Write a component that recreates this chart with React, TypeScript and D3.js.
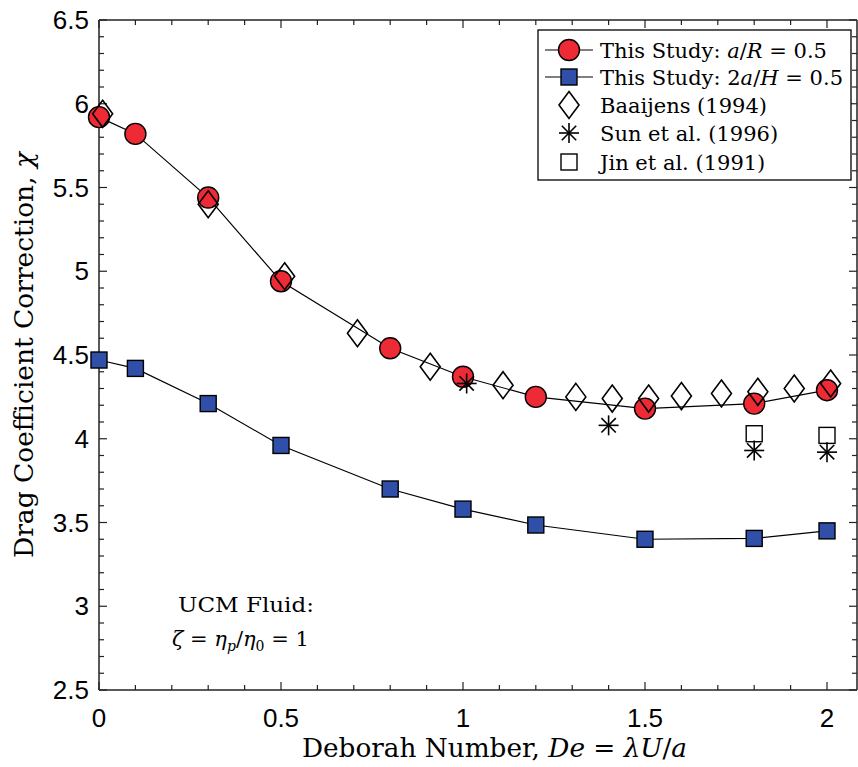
import React from "react";
import * as d3 from "d3";

const deStudy = [0, 0.1, 0.3, 0.5, 0.8, 1.0, 1.2, 1.5, 1.8, 2.0];
const chiCylinder = [5.92, 5.82, 5.44, 4.94, 4.54, 4.37, 4.25, 4.18, 4.21, 4.29];
const chiSphereChannel = [4.47, 4.42, 4.21, 3.96, 3.70, 3.58, 3.485, 3.40, 3.405, 3.45];

const deBaaijens = [0.01, 0.3, 0.51, 0.71, 0.91, 1.11, 1.31, 1.41, 1.51, 1.6, 1.71, 1.81, 1.91, 2.01];
const chiBaaijens = [5.94, 5.40, 4.97, 4.63, 4.43, 4.32, 4.25, 4.24, 4.24, 4.255, 4.27, 4.28, 4.30, 4.33];

const deSun = [1.01, 1.4, 1.8, 2.0];
const chiSun = [4.33, 4.08, 3.93, 3.92];

const deJin = [1.8, 2.0];
const chiJin = [4.03, 4.02];

const xTicks = [0, 0.5, 1, 1.5, 2];
const xTickLabels = ["0", "0.5", "1", "1.5", "2"];
const yTicks = [2.5, 3, 3.5, 4, 4.5, 5, 5.5, 6, 6.5];
const yTickLabels = ["2.5", "3", "3.5", "4", "4.5", "5", "5.5", "6", "6.5"];

const legendLabels = ["This Study: ", "This Study: ", "Baaijens (1994)", "Sun et al. (1996)", "Jin et al. (1991)"];

const W = 858, H = 767;
const L = 99, T = 20, B = 690, R = 857;

const x = d3.scaleLinear().domain([0, 2]).range([L, 827]);
const y = d3.scaleLinear().domain([2.5, 6.5]).range([B, T]);
const xMax = x.invert(R);

const RED = "#ee2a35";
const BLUE = "#2f4fa8";
const SERIF = "'DejaVu Serif', 'Liberation Serif', serif";
const SANS = "'Liberation Sans', Arial, sans-serif";

function Circle({ cx, cy }: { cx: number; cy: number }) {
  return <circle cx={cx} cy={cy} r={10.5} fill={RED} stroke="#000" strokeWidth={1.4} />;
}
function Square({ cx, cy, fill }: { cx: number; cy: number; fill: string }) {
  return <rect x={cx - 8} y={cy - 8} width={16} height={16} fill={fill} stroke="#000" strokeWidth={1.4} />;
}
function Diamond({ cx, cy }: { cx: number; cy: number }) {
  const p = `M${cx},${cy - 13.5}L${cx + 10},${cy}L${cx},${cy + 13.5}L${cx - 10},${cy}Z`;
  return <path d={p} fill="none" stroke="#000" strokeWidth={1.6} />;
}
function Star({ cx, cy }: { cx: number; cy: number }) {
  const r = 10, d = 7.2;
  return (
    <g stroke="#000" strokeWidth={1.6}>
      <line x1={cx - r} y1={cy} x2={cx + r} y2={cy} />
      <line x1={cx} y1={cy - r} x2={cx} y2={cy + r} />
      <line x1={cx - d} y1={cy - d} x2={cx + d} y2={cy + d} />
      <line x1={cx - d} y1={cy + d} x2={cx + d} y2={cy - d} />
    </g>
  );
}

export default function App() {
  const line = d3.line<[number, number]>().x(d => x(d[0])).y(d => y(d[1]));
  const cylPts: [number, number][] = deStudy.map((d, i) => [d, chiCylinder[i]]);
  const chanPts: [number, number][] = deStudy.map((d, i) => [d, chiSphereChannel[i]]);

  const xMinor = d3.range(0, xMax, 0.1).map(v => Math.round(v * 10) / 10);
  const yMinor = d3.range(2.5, 6.5001, 0.1).map(v => Math.round(v * 10) / 10);
  const isMajor = (v: number) => Math.abs(v * 2 - Math.round(v * 2)) < 1e-6;

  const lgX = 569, lgY = [50, 77, 105, 133, 162];

  return (
    <svg width={W} height={H} style={{ position: "absolute", left: 0, top: 0, background: "#fff" }}>
      <g stroke="#222" strokeWidth={1.5} fill="none">
        <line x1={L} y1={B} x2={R} y2={B} />
        <line x1={L} y1={T} x2={R} y2={T} />
        <line x1={L} y1={T} x2={L} y2={B} />
        <line x1={R} y1={T} x2={R} y2={B} />
      </g>
      <g stroke="#222" strokeWidth={1.2}>
        {xMinor.map(v => {
          const len = isMajor(v) ? 8 : 5;
          return (
            <g key={"xt" + v}>
              <line x1={x(v)} x2={x(v)} y1={B} y2={B - len} />
              <line x1={x(v)} x2={x(v)} y1={T} y2={T + len} />
            </g>
          );
        })}
        {yMinor.map(v => {
          const len = isMajor(v) ? 8 : 5;
          return (
            <g key={"yt" + v}>
              <line x1={L} x2={L + len} y1={y(v)} y2={y(v)} />
              <line x1={R} x2={R - len} y1={y(v)} y2={y(v)} />
            </g>
          );
        })}
      </g>
      <g fontFamily={SANS} fontSize={26} fill="#000">
        {xTicks.map((v, i) => (
          <text key={"xl" + v} x={x(v)} y={727} textAnchor="middle">{xTickLabels[i]}</text>
        ))}
        {yTicks.map((v, i) => (
          <text key={"yl" + v} x={89} y={y(v) + 9} textAnchor="end">{yTickLabels[i]}</text>
        ))}
      </g>
      <text x={302} y={757} textLength={385} lengthAdjust="spacingAndGlyphs" fontFamily={SERIF} fontSize={26} fill="#000">
        Deborah Number, <tspan fontStyle="italic">De</tspan> = <tspan fontStyle="italic">λU</tspan>/<tspan fontStyle="italic">a</tspan>
      </text>
      <text transform="translate(33,558) rotate(-90)" textLength={406} lengthAdjust="spacingAndGlyphs" fontFamily={SERIF} fontSize={26} fill="#000">
        Drag Coefficient Correction, <tspan fontStyle="italic">χ</tspan>
      </text>
      <g fontFamily={SERIF} fontSize={21} fill="#000">
        <text x={178} y={612} textLength={136} lengthAdjust="spacingAndGlyphs">UCM Fluid:</text>
        <text x={172} y={646}>
          <tspan fontStyle="italic">ζ</tspan> = <tspan fontStyle="italic">η</tspan><tspan fontStyle="italic" fontSize={14} dy={5}>p</tspan><tspan dy={-5}>/</tspan><tspan fontStyle="italic">η</tspan><tspan fontSize={14} dy={5}>0</tspan><tspan dy={-5}> = 1</tspan>
        </text>
      </g>
      <path d={line(cylPts) || ""} fill="none" stroke="#000" strokeWidth={1.2} />
      <path d={line(chanPts) || ""} fill="none" stroke="#000" strokeWidth={1.2} />
      {chanPts.map((p, i) => <Square key={"s" + i} cx={x(p[0])} cy={y(p[1])} fill={BLUE} />)}
      {cylPts.map((p, i) => <Circle key={"c" + i} cx={x(p[0])} cy={y(p[1])} />)}
      {deJin.map((d, i) => <Square key={"j" + i} cx={x(d)} cy={y(chiJin[i])} fill="#fff" />)}
      {deBaaijens.map((d, i) => <Diamond key={"d" + i} cx={x(d)} cy={y(chiBaaijens[i])} />)}
      {deSun.map((d, i) => <Star key={"st" + i} cx={x(d)} cy={y(chiSun[i])} />)}
      <rect x={538} y={30} width={313} height={150} fill="#fff" stroke="#000" strokeWidth={1.3} />
      <g>
        <line x1={545} x2={593} y1={lgY[0]} y2={lgY[0]} stroke="#000" strokeWidth={1.2} />
        <Circle cx={lgX} cy={lgY[0]} />
        <line x1={545} x2={593} y1={lgY[1]} y2={lgY[1]} stroke="#000" strokeWidth={1.2} />
        <Square cx={lgX} cy={lgY[1]} fill={BLUE} />
        <Diamond cx={lgX} cy={lgY[2]} />
        <Star cx={lgX} cy={lgY[3]} />
        <Square cx={lgX} cy={lgY[4]} fill="#fff" />
      </g>
      <g fontFamily={SERIF} fontSize={21} fill="#000">
        <text x={600} y={lgY[0] + 8} textLength={227} lengthAdjust="spacingAndGlyphs">{legendLabels[0]}<tspan fontStyle="italic">a</tspan>/<tspan fontStyle="italic">R</tspan> = 0.5</text>
        <text x={600} y={lgY[1] + 8} textLength={243} lengthAdjust="spacingAndGlyphs">{legendLabels[1]}2<tspan fontStyle="italic">a</tspan>/<tspan fontStyle="italic">H</tspan> = 0.5</text>
        <text x={600} y={lgY[2] + 8}>{legendLabels[2]}</text>
        <text x={600} y={lgY[3] + 8}>{legendLabels[3]}</text>
        <text x={600} y={lgY[4] + 8}>{legendLabels[4]}</text>
      </g>
    </svg>
  );
}
